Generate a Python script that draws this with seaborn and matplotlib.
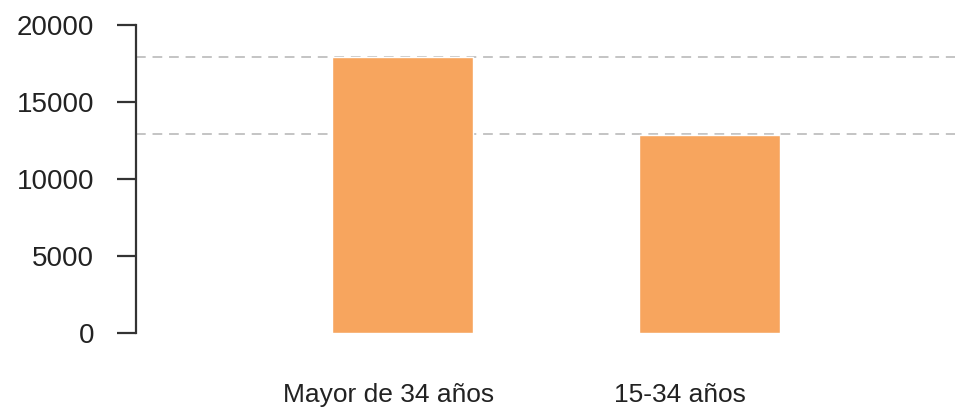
import matplotlib
matplotlib.use("Agg")
import matplotlib.pyplot as plt
import matplotlib.transforms as mtransforms
import seaborn as sns
import pandas as pd

categories = ["Mayor de 34 años", "15-34 años"]
values = [17900, 12850]
ref_lines = [17950, 12950]
y_ticks = [0, 5000, 10000, 15000, 20000]

sns.set_style("white")
plt.rcParams["font.family"] = ["Liberation Sans", "DejaVu Sans"]

df = pd.DataFrame({"grupo": categories, "valor": values})

fig = plt.figure(figsize=(9.55, 4.09), dpi=100)
ax = fig.add_axes([136 / 955, 76 / 409, 1 - 136 / 955, 308 / 409])

# dashed reference lines behind the bars
for v in ref_lines:
    ax.axhline(v, color="#c4c4c4", linestyle=(0, (5, 3.5)), linewidth=1.4, zorder=0)

sns.barplot(data=df, x="grupo", y="valor", color="#f7a55e", width=0.46,
            saturation=1, ax=ax, zorder=2)

ax.set_xlim(-0.87, 1.8)
ax.set_ylim(0, 20000)
ax.set_yticks(y_ticks)
ax.set_yticklabels([str(t) for t in y_ticks], fontsize=20, color="#222222")
ax.set_xlabel("")
ax.set_ylabel("")

for s in ["top", "right", "bottom"]:
    ax.spines[s].set_visible(False)
ax.spines["left"].set_color("#333333")
ax.spines["left"].set_linewidth(1.6)
ax.spines["left"].set_bounds(0, 20000)
ax.spines["left"].set_clip_on(False)

ax.tick_params(axis="y", direction="out", length=14, width=1.6, color="#333333", pad=16, left=True)
ax.tick_params(axis="x", length=0, pad=36, labelsize=19, labelcolor="#222222")

# labels in the original sit a little left of the bar centres
shifts = [-14, -30]
for lab, dx in zip(ax.get_xticklabels(), shifts):
    lab.set_transform(lab.get_transform() + mtransforms.ScaledTranslation(dx / 100, 0, fig.dpi_scale_trans))

fig.savefig("out.png", dpi=100, facecolor="white")
